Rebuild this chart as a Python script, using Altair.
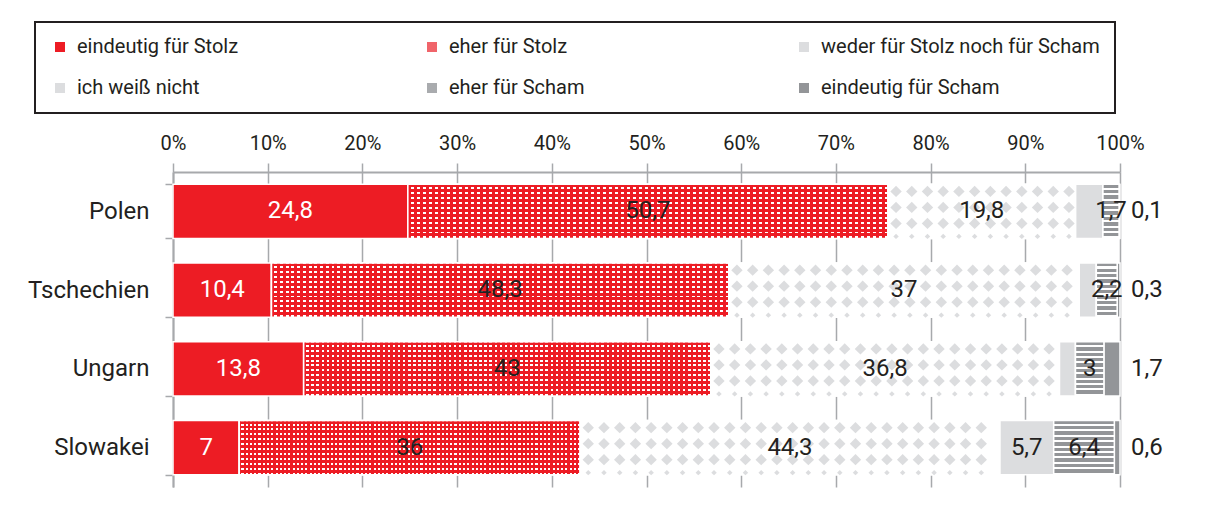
import altair as alt
import pandas as pd

# ---------------- data ----------------
countries = ["Polen", "Tschechien", "Ungarn", "Slowakei"]
series = [
    "eindeutig für Stolz",
    "eher für Stolz",
    "weder für Stolz noch für Scham",
    "ich weiß nicht",
    "eher für Scham",
    "eindeutig für Scham",
]
v_stolz_eindeutig = [24.8, 10.4, 13.8, 7.0]
v_stolz_eher = [50.7, 48.3, 43.0, 36.0]
v_weder = [19.8, 37.0, 36.8, 44.3]
v_weiss_nicht = [2.9, 1.8, 1.7, 5.7]
v_scham_eher = [1.7, 2.2, 3.0, 6.4]
v_scham_eindeutig = [0.1, 0.3, 1.7, 0.6]
hidden_labels = [("Polen", "ich weiß nicht"), ("Tschechien", "ich weiß nicht"), ("Ungarn", "ich weiß nicht")]
tick_values = [0, 10, 20, 30, 40, 50, 60, 70, 80, 90, 100]

values_by_series = [v_stolz_eindeutig, v_stolz_eher, v_weder, v_weiss_nicht, v_scham_eher, v_scham_eindeutig]
rows = []
for ci, c in enumerate(countries):
    for si, s in enumerate(series):
        rows.append({
            "country": c,
            "series": s,
            "order": si,
            "value": values_by_series[si][ci],
            "show": (c, s) not in hidden_labels,
        })
df = pd.DataFrame(rows)

# ---------------- styles ----------------
FONT = "Roboto"
DARK = "#231f20"
RED = "#ed1c24"
LIGHT = "#dcdddf"
GRAY = "#939598"
AXIS_GRAY = "#a7a9ac"
legend_colors = [RED, "#f0646a", LIGHT, LIGHT, "#a9abae", GRAY]


def stripes(c1, c2, n, frac, vertical):
    stops = []
    for k in range(n):
        a = round(k / n, 5)
        b = round((k + frac) / n, 5)
        e = round((k + 1) / n, 5)
        stops += [
            alt.GradientStop(offset=a, color=c1),
            alt.GradientStop(offset=b, color=c1),
            alt.GradientStop(offset=b, color=c2),
            alt.GradientStop(offset=e, color=c2),
        ]
    if vertical:  # stripes stacked along y
        return alt.LinearGradient(gradient="linear", stops=stops, x1=0, y1=0, x2=0, y2=1)
    return alt.LinearGradient(gradient="linear", stops=stops, x1=0, y1=0, x2=1, y2=0)


red_h = stripes(RED, "#ffffff", 11, 0.6, True)
red_v = stripes(RED, "rgba(237,28,36,0)", 80, 0.5, False)
gray_h = stripes(GRAY, "#ffffff", 10, 0.62, True)

x_axis = alt.Axis(
    orient="top", values=tick_values, labelExpr="datum.value + '%'", title=None,
    grid=True, gridColor=AXIS_GRAY, gridWidth=1.5, domainColor=AXIS_GRAY, domainWidth=2,
    tickColor=AXIS_GRAY, tickWidth=1.5, tickSize=9, labelFontSize=20, labelPadding=10,
    labelColor=DARK, labelFont=FONT, labelFlush=False,
)
y_axis = alt.Axis(
    title=None, tickBand="extent", tickSize=8, tickColor=AXIS_GRAY, tickWidth=1.5,
    domainColor=AXIS_GRAY, domainWidth=2, labelFontSize=24, labelPadding=16,
    labelColor=DARK, labelFont=FONT, grid=False,
)
x_scale = alt.Scale(domain=[0, 100], nice=False, zero=True)
y_enc = alt.Y("country:N", sort=countries, axis=y_axis,
              scale=alt.Scale(paddingInner=0.314, paddingOuter=0.157))

base = alt.Chart(df).transform_stack(
    stack="value", groupby=["country"], as_=["x0", "x1"],
    sort=[alt.SortField("order", order="ascending")],
).transform_calculate(
    mid="(datum.x0 + datum.x1) / 2",
    label="replace(toString(datum.value), '.', ',')",
    tcolor="datum.order == 0 ? 'white' : '" + DARK + "'",
)

bars = base.mark_bar(stroke="white", strokeWidth=1.5).encode(
    x=alt.X("x0:Q", scale=x_scale, axis=x_axis),
    x2="x1:Q",
    y=y_enc,
    color=alt.Color(
        "series:N", sort=series,
        scale=alt.Scale(domain=series, range=legend_colors),
        legend=alt.Legend(
            title=None, orient="none", legendX=-138, legendY=-150,
            direction="horizontal", columns=3, gridAlign="all",
            columnPadding=66, rowPadding=21, padding=15,
            symbolType="square", symbolSize=100, symbolStrokeWidth=0,
            labelFontSize=20, labelFont=FONT, labelColor=DARK, labelOffset=7,
            labelLimit=600, strokeColor=DARK, fillColor="white",
        ),
    ),
)


def seg(order):
    return base.transform_filter(alt.datum.order == order)


def seg_bar(order, fill):
    return seg(order).mark_bar(fill=fill, stroke="white", strokeWidth=1.5).encode(
        x=alt.X("x0:Q", scale=x_scale, axis=x_axis), x2="x1:Q", y=y_enc)


stolz1 = seg_bar(1, red_h)
stolz2 = seg_bar(1, red_v)
weder_bg = seg_bar(2, "white")


def diamonds(offset, size):
    return seg(2).transform_calculate(
        cols="sequence(datum.x0 + 0.85, datum.x1 - 0.5, 1.66)",
    ).transform_flatten(["cols"]).mark_point(
        shape="diamond", filled=True, size=size, color=LIGHT, opacity=1,
        strokeWidth=0, yOffset=offset,
    ).encode(
        x=alt.X("cols:Q", scale=x_scale, axis=x_axis),
        y=y_enc,
    )


dia_layers = [diamonds(-20, 130), diamonds(-4, 130), diamonds(12, 130), diamonds(25, 30)]
scham = seg_bar(4, gray_h)

labels_mid = base.transform_filter("datum.order < 5 && datum.show").mark_text(
    fontSize=24, font=FONT, baseline="middle", align="center",
).encode(
    x=alt.X("mid:Q", scale=x_scale, axis=x_axis),
    y=y_enc,
    text="label:N",
    fill=alt.Fill("tcolor:N", scale=None),
)
labels_out = base.transform_filter("datum.order == 5").mark_text(
    fontSize=24, font=FONT, baseline="middle", align="left", dx=11, color=DARK,
).encode(
    x=alt.X("x1:Q", scale=x_scale, axis=x_axis),
    y=y_enc,
    text="label:N",
)

chart = alt.layer(
    bars, stolz1, stolz2, weder_bg, *dia_layers, scham, labels_mid, labels_out
).properties(
    width=947, height=315,
    padding={"left": 19, "top": 13, "right": 5, "bottom": 5},
).configure_view(stroke=None).configure_legend(strokeWidth=2)

chart.save("out.html", embed_options={"renderer": "svg", "actions": False})
